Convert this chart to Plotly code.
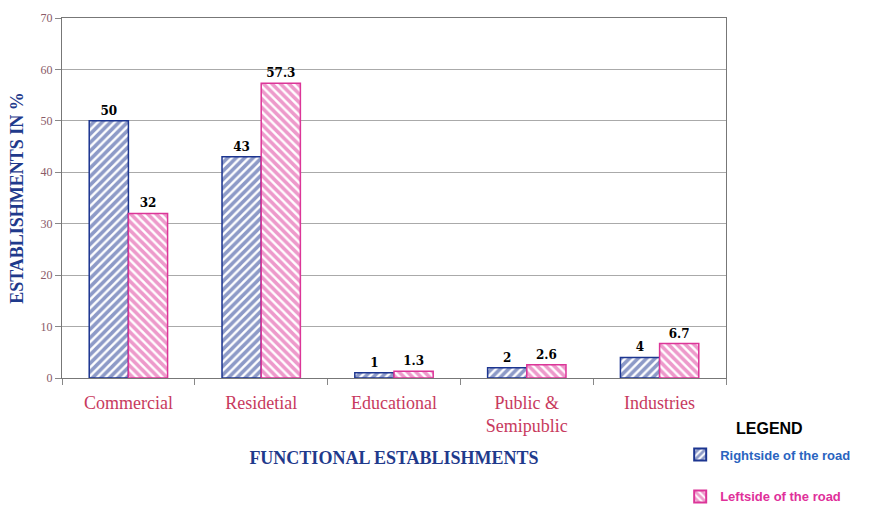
import plotly.graph_objects as go

categories = ["Commercial", "Residetial", "Educational", "Public &<br>Semipublic", "Industries"]
right_vals = [50, 43, 1, 2, 4]
left_vals = [32, 57.3, 1.3, 2.6, 6.7]
right_labels = ["50", "43", "1", "2", "4"]
left_labels = ["32", "57.3", "1.3", "2.6", "6.7"]
y_ticks = [0, 10, 20, 30, 40, 50, 60, 70]

BLUE = "#1c3590"
PINK = "#dc3598"

fig = go.Figure()
fig.add_trace(go.Bar(
    x=categories, y=right_vals, text=["<b>%s</b>" % t for t in right_labels], textposition="outside",
    name="<span style='color:#2a64c0'><b>Rightside of the road</b></span>",
    legendgroup="r",
    marker=dict(color="white", line=dict(color=BLUE, width=1.5),
                pattern=dict(shape="/", fgcolor=BLUE, bgcolor="white", size=6, solidity=0.6)),
    textfont=dict(family="DejaVu Serif", size=12, color="black"),
    cliponaxis=False,
))
fig.add_trace(go.Bar(
    x=categories, y=left_vals, text=["<b>%s</b>" % t for t in left_labels], textposition="outside",
    name="<span style='color:#e0309a'><b>Leftside of the road</b></span>",
    legendgroup="l",
    marker=dict(color="white", line=dict(color=PINK, width=1.5),
                pattern=dict(shape="\\", fgcolor=PINK, bgcolor="white", size=6, solidity=0.6)),
    textfont=dict(family="DejaVu Serif", size=12, color="black"),
    cliponaxis=False,
))

fig.add_annotation(
    text="<b>LEGEND</b>", xref="paper", yref="paper", x=1.012, y=-0.14,
    xanchor="left", yanchor="middle", showarrow=False,
    font=dict(family="Liberation Sans", size=16, color="black"),
)

fig.update_layout(
    width=869, height=508,
    margin=dict(l=62, r=143, t=18, b=130, autoexpand=False),
    plot_bgcolor="white", paper_bgcolor="white",
    barmode="group", bargap=0.41, bargroupgap=0,
    showlegend=True,
    legend=dict(
        x=0.931, y=-0.171, xanchor="left", yanchor="top",
        traceorder="grouped",
        font=dict(family="Liberation Sans", size=13),
        itemsizing="constant", tracegroupgap=22, itemwidth=30,
        bgcolor="rgba(0,0,0,0)",
    ),
    xaxis=dict(
        title=dict(text="<b>FUNCTIONAL ESTABLISHMENTS</b>",
                   font=dict(family="Liberation Serif", size=18, color="#1f3a8c"), standoff=16),
        tickfont=dict(family="Liberation Serif", size=18, color="#c83a5e"),
        showline=True, linecolor="#777", linewidth=1, mirror=True,
        ticks="outside", ticklen=6, tickcolor="#888", tickson="boundaries",
        ticklabelstandoff=8, showgrid=False,
    ),
    yaxis=dict(
        title=dict(text="<b>ESTABLISHMENTS IN %</b>",
                   font=dict(family="Liberation Serif", size=18, color="#1f3a8c"), standoff=12),
        range=[0, 70], tickvals=y_ticks,
        tickfont=dict(family="Liberation Serif", size=12, color="#8a5a68"),
        showline=True, linecolor="#777", linewidth=1, mirror=True,
        showgrid=True, gridcolor="#aaaaaa", gridwidth=1,
        ticks="outside", ticklen=6, tickcolor="#888",
        zeroline=False,
    ),
)

fig.write_html("out.html")
